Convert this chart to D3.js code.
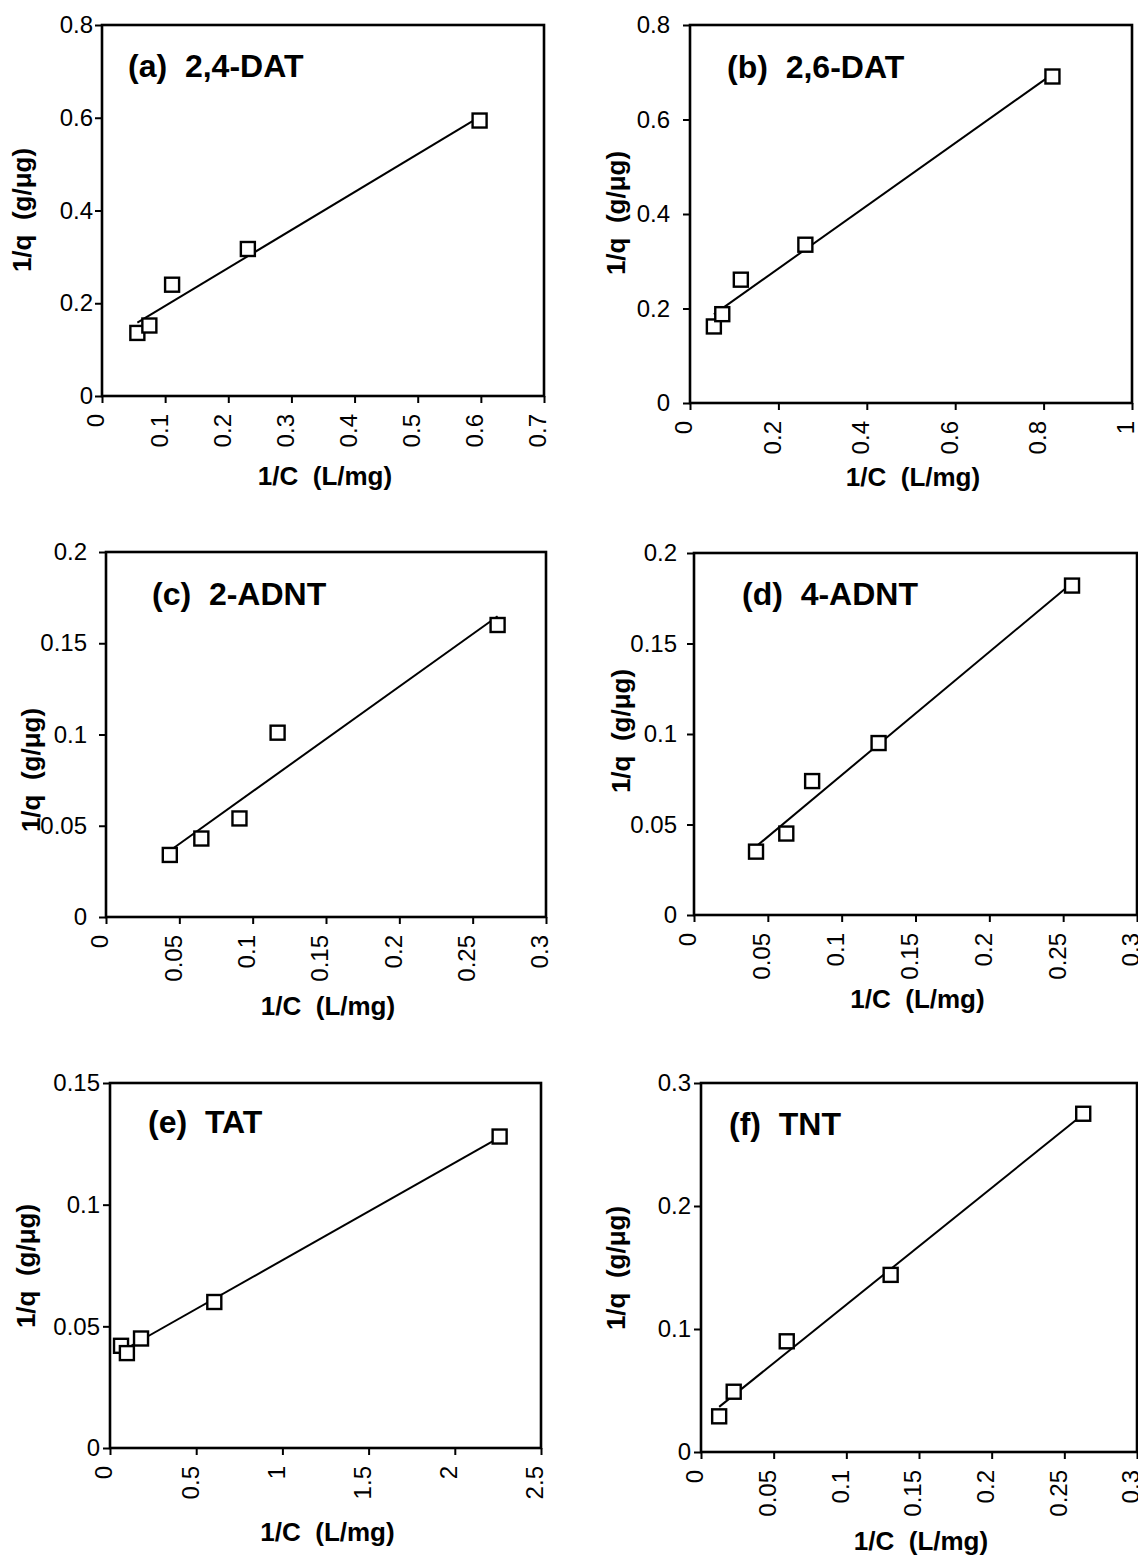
<!DOCTYPE html>
<html>
<head>
<meta charset="utf-8">
<script src="https://cdnjs.cloudflare.com/ajax/libs/d3/7.8.5/d3.min.js"></script>
<style>
    body { margin: 0; background: #fff; }
    svg { display: block; }
    text { font-family: "Liberation Sans", Arial, sans-serif; fill: #000; }
    .tick text { font-size: 24px; }
    .title { font-size: 32px; font-weight: bold; white-space: pre; }
    .label { font-size: 26px; font-weight: bold; white-space: pre; }
</style>
</head>
<body>
<svg id="chart" width="1138" height="1557"></svg>
<script>
// values, 1/C on x and 1/q on y
var titles = ['(a)  2,4-DAT', '(b)  2,6-DAT', '(c)  2-ADNT', '(d)  4-ADNT', '(e)  TAT', '(f)  TNT'];

var dat24_x = [0.056, 0.075, 0.111, 0.231, 0.598];
var dat24_y = [0.136, 0.152, 0.240, 0.317, 0.594];

var dat26_x = [0.054, 0.073, 0.115, 0.261, 0.820];
var dat26_y = [0.162, 0.188, 0.261, 0.335, 0.691];

var adnt2_x = [0.0435, 0.065, 0.091, 0.117, 0.267];
var adnt2_y = [0.034, 0.043, 0.054, 0.101, 0.160];

var adnt4_x = [0.042, 0.0625, 0.080, 0.125, 0.256];
var adnt4_y = [0.035, 0.045, 0.074, 0.095, 0.182];

var tat_x = [0.064, 0.098, 0.180, 0.605, 2.26];
var tat_y = [0.042, 0.039, 0.045, 0.060, 0.128];

var tnt_x = [0.0125, 0.0225, 0.059, 0.1305, 0.263];
var tnt_y = [0.029, 0.049, 0.090, 0.144, 0.275];

var xTicks = [
    [0, 0.1, 0.2, 0.3, 0.4, 0.5, 0.6, 0.7],
    [0, 0.2, 0.4, 0.6, 0.8, 1],
    [0, 0.05, 0.1, 0.15, 0.2, 0.25, 0.3],
    [0, 0.05, 0.1, 0.15, 0.2, 0.25, 0.3],
    [0, 0.5, 1, 1.5, 2, 2.5],
    [0, 0.05, 0.1, 0.15, 0.2, 0.25, 0.3]
];
var yTicks = [
    [0, 0.2, 0.4, 0.6, 0.8],
    [0, 0.2, 0.4, 0.6, 0.8],
    [0, 0.05, 0.1, 0.15, 0.2],
    [0, 0.05, 0.1, 0.15, 0.2],
    [0, 0.05, 0.1, 0.15],
    [0, 0.1, 0.2, 0.3]
];

var xLabel = '1/C  (L/mg)';
var yLabel = '1/q  (g/\u03bcg)';

// page placement of each plot box (pixels)
var layout = [
    {l: 102, r: 544, t: 25, b: 396, pad: 2, tx: 128, ty: 77, xb: 485, yb: 31, yc: 210},
    {l: 690, r: 1132, t: 25, b: 403, pad: 13, tx: 727, ty: 78, xb: 486, yb: 625, yc: 213},
    {l: 106, r: 546, t: 552, b: 917, pad: 12, tx: 152, ty: 605, xb: 1015, yb: 40, yc: 770},
    {l: 694, r: 1137, t: 553, b: 915, pad: 10, tx: 742, ty: 605, xb: 1008, yb: 630, yc: 731},
    {l: 110, r: 541, t: 1083, b: 1448, pad: 3, tx: 148, ty: 1133, xb: 1541, yb: 35, yc: 1266},
    {l: 701, r: 1137, t: 1083, b: 1452, pad: 3, tx: 729, ty: 1135, xb: 1550, yb: 625, yc: 1268}
];

var xs = [dat24_x, dat26_x, adnt2_x, adnt4_x, tat_x, tnt_x];
var ys = [dat24_y, dat26_y, adnt2_y, adnt4_y, tat_y, tnt_y];

var svg = d3.select('#chart');

function fit(px, py) {
    var mx = d3.mean(px), my = d3.mean(py);
    var sxy = d3.sum(px, function(v, i) { return (v - mx) * (py[i] - my); });
    var sxx = d3.sum(px, function(v) { return (v - mx) * (v - mx); });
    var slope = sxy / sxx;
    return function(v) { return my + slope * (v - mx); };
}

titles.forEach(function(title, k) {
    var L = layout[k];
    var px = xs[k], py = ys[k];
    var xt = xTicks[k], yt = yTicks[k];

    var x = d3.scaleLinear().domain([0, xt[xt.length - 1]]).range([L.l, L.r]);
    var y = d3.scaleLinear().domain([0, yt[yt.length - 1]]).range([L.b, L.t]);

    var g = svg.append('g');

    var xa = g.append('g')
        .attr('transform', 'translate(0,' + L.b + ')')
        .call(d3.axisBottom(x).tickValues(xt).tickSize(7).tickFormat(function(d) { return String(d); }));
    xa.select('.domain').remove();
    xa.selectAll('line').attr('stroke-width', 2);
    xa.selectAll('text')
        .attr('transform', 'rotate(-90)')
        .attr('text-anchor', 'end')
        .attr('x', -18)
        .attr('y', 0)
        .attr('dy', '0.08em');

    var ya = g.append('g')
        .attr('transform', 'translate(' + L.l + ',0)')
        .call(d3.axisLeft(y).tickValues(yt).tickSize(7).tickPadding(L.pad).tickFormat(function(d) { return String(d); }));
    ya.select('.domain').remove();
    ya.selectAll('line').attr('stroke-width', 2);

    g.append('rect')
        .attr('x', L.l).attr('y', L.t)
        .attr('width', L.r - L.l).attr('height', L.b - L.t)
        .attr('fill', 'none').attr('stroke', '#000').attr('stroke-width', 2.6);

    var f = fit(px, py);
    var ends = d3.extent(px);
    g.append('line')
        .attr('x1', x(ends[0])).attr('y1', y(f(ends[0])))
        .attr('x2', x(ends[1])).attr('y2', y(f(ends[1])))
        .attr('stroke', '#000').attr('stroke-width', 2);

    g.selectAll('.pt').data(px).enter().append('rect')
        .attr('class', 'pt')
        .attr('x', function(d) { return x(d) - 7; })
        .attr('y', function(d, i) { return y(py[i]) - 7; })
        .attr('width', 14).attr('height', 14)
        .attr('fill', '#fff').attr('stroke', '#000').attr('stroke-width', 2.4);

    g.append('text').attr('class', 'title')
        .attr('x', L.tx).attr('y', L.ty)
        .text(title);

    g.append('text').attr('class', 'label')
        .attr('x', (L.l + L.r) / 2 + 2).attr('y', L.xb)
        .attr('text-anchor', 'middle')
        .text(xLabel);

    g.append('text').attr('class', 'label')
        .attr('transform', 'translate(' + L.yb + ',' + L.yc + ') rotate(-90)')
        .attr('text-anchor', 'middle')
        .text(yLabel);
});
</script>
</body>
</html>
